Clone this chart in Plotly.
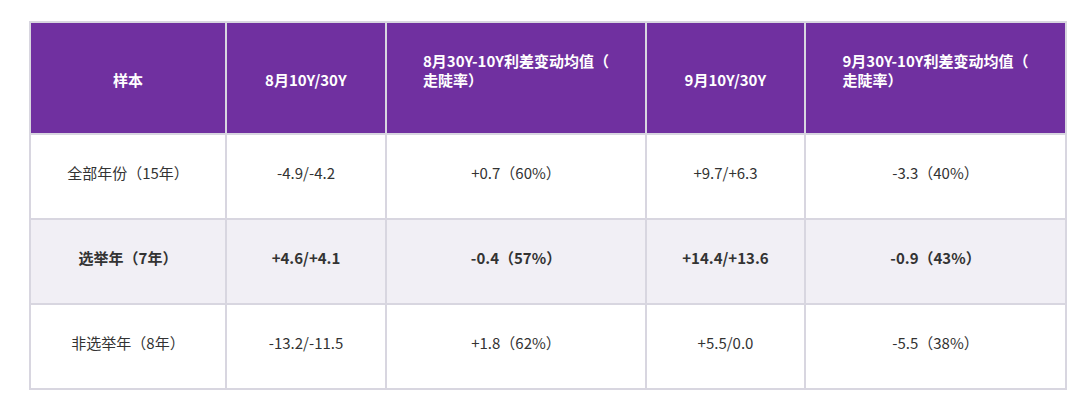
import plotly.graph_objects as go

headers = ["样本", "8月10Y/30Y", "8月30Y-10Y利差变动均值（<br>走陡率）", "9月10Y/30Y", "9月30Y-10Y利差变动均值（<br>走陡率）"]
samples = ["全部年份（15年）", "<b>选举年（7年）</b>", "非选举年（8年）"]
aug_10_30 = ["-4.9/-4.2", "<b>+4.6/+4.1</b>", "-13.2/-11.5"]
aug_spread = ["+0.7（60%）", "<b>-0.4（57%）</b>", "+1.8（62%）"]
sep_10_30 = ["+9.7/+6.3", "<b>+14.4/+13.6</b>", "+5.5/0.0"]
sep_spread = ["-3.3（40%）", "<b>-0.9（43%）</b>", "-5.5（38%）"]

row_fill = ["white", "#F1EFF5", "white"]
cols = [samples, aug_10_30, aug_spread, sep_10_30, sep_spread]
NB = "\u00a0<br>"
pad = lambda v: [NB + s for s in v]
hdr = [(NB if "<br>" in h else NB + NB) + "<b>%s</b>" % h.replace("<br>", "</b><br><b>") for h in headers]

fig = go.Figure(go.Table(
    columnwidth=[196, 160, 260, 159, 261],
    header=dict(values=hdr,
                fill_color="#7030A0", line_color="#D8D6E0", line_width=1.5,
                font=dict(color="white", size=15, family="Noto Sans CJK SC"),
                align="center", height=112),
    cells=dict(values=[pad(c) for c in cols],
               fill_color=[row_fill] * 5, line_color="#D8D6E0", line_width=1.5,
               font=dict(color="#333333", size=15, family="Noto Sans CJK SC"),
               align="center", height=85)
))
fig.update_layout(width=1080, height=410, margin=dict(l=22, r=22, t=14, b=10),
                  paper_bgcolor="white")
fig.write_html("out.html")
